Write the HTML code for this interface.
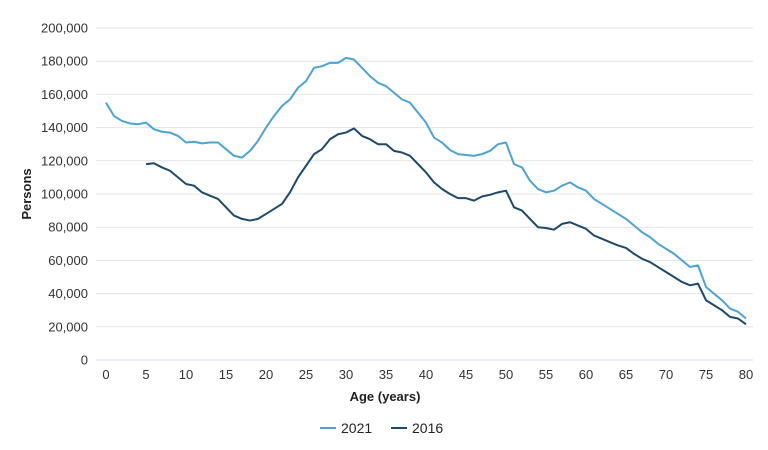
<!DOCTYPE html>
<html><head><meta charset="utf-8"><style>
body{margin:0;background:#fff;}
svg{display:block;font-family:"Liberation Sans",sans-serif;}
</style></head><body>
<svg id="c" width="768" height="450" viewBox="0 0 768 450"></svg>
<script>
const s=document.getElementById('c');
let h='';
const Y=v=>360-v*332/200, X=a=>106+a*8;
for(let i=0;i<=10;i++){const y=Y(i*20);h+=`<line x1="96" x2="753" y1="${y}" y2="${y}" stroke="${i?'#e4e4e4':'#d8d8e8'}" stroke-width="1"/>`;
h+=`<text x="88" y="${y+4.5}" text-anchor="end" font-size="13" fill="#333">${i?(i*20)+',000':'0'}</text>`;}
for(let a=0;a<=80;a+=5)h+=`<text x="${X(a)}" y="379" text-anchor="middle" font-size="13" fill="#333">${a}</text>`;
h+=`<text x="385" y="401" text-anchor="middle" font-size="13" font-weight="bold" fill="#222">Age (years)</text>`;
h+=`<text transform="translate(31,194) rotate(-90)" text-anchor="middle" font-size="13" font-weight="bold" fill="#222">Persons</text>`;
const a=[155,147,144,142.5,142,143,139,137.5,137,135,131,131.5,130.5,131,131,127,123,122,126,132,140,147,153,157,164,168,176,177,179,179,182,181,176,171,167,165,161,157,155,149,143,134,131,126.5,124,123.5,123,124,126,130,131,118,116,108,103,101,102,105,107,104,102,97,94,91,88,85,81,77,74,70,67,64,60,56,57,44,40,36,31,29,25];
const b=[118,118.5,116,114,110,106,105,101,99,97,92,87,85,84,85,88,91,94,101,110,117,124,127,133,136,137,139.5,135,133,130,130,126,125,123,118,113,107,103,100,97.5,97.5,96,98.5,99.5,101,102,92,90,85,80,79.5,78.5,82,83,81,79,75,73,71,69,67.5,64,61,59,56,53,50,47,45,46,36,33,30,26,25,21.5];
h+=`<polyline fill="none" stroke="#4ba3d6" stroke-width="2" stroke-linejoin="round" points="${a.map((v,i)=>X(i)+','+Y(v)).join(' ')}"/>`;
h+=`<polyline fill="none" stroke="#1b4a6e" stroke-width="2" stroke-linejoin="round" points="${b.map((v,i)=>X(i+5)+','+Y(v)).join(' ')}"/>`;
h+=`<line x1="320" x2="336" y1="428" y2="428" stroke="#4ba3d6" stroke-width="2"/><text x="341" y="433" font-size="14" fill="#222">2021</text>`;
h+=`<line x1="391" x2="407" y1="428" y2="428" stroke="#1b4a6e" stroke-width="2"/><text x="412" y="433" font-size="14" fill="#222">2016</text>`;
s.innerHTML=h;
</script>
</body></html>
